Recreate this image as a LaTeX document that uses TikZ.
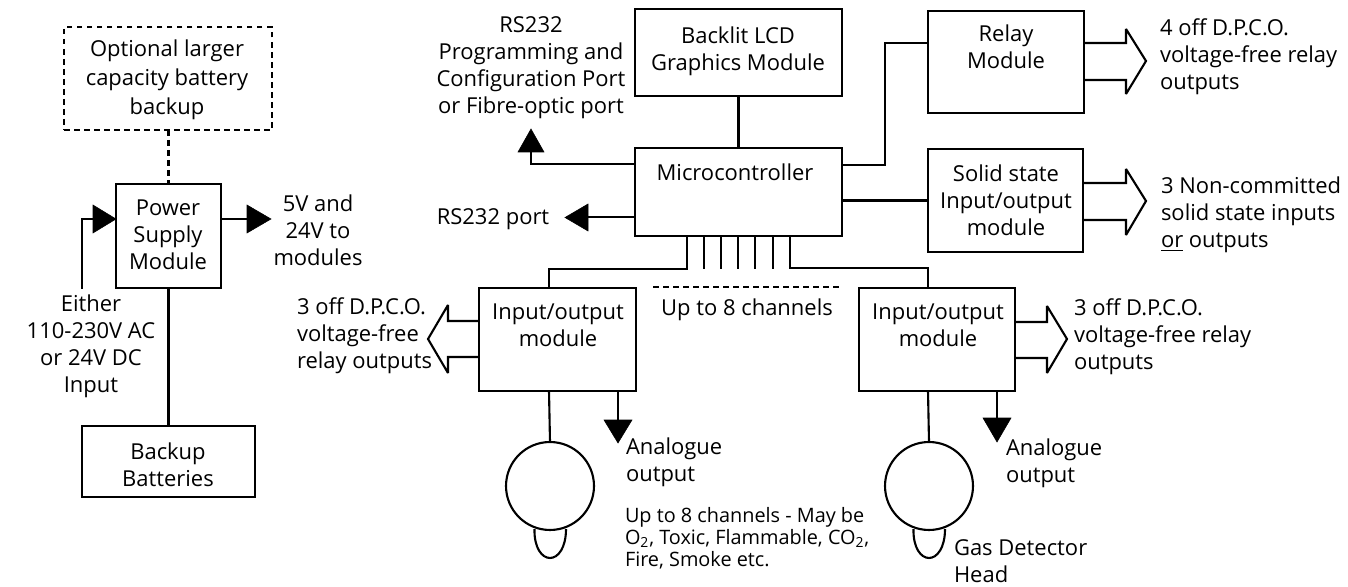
\documentclass[tikz,border=0pt]{standalone}
\usepackage{fontspec}
\setmainfont{Open Sans}
\begin{document}
\begin{tikzpicture}[x=0.02cm,y=-0.02cm,inner sep=0pt,outer sep=0pt,line width=1.2pt,line join=miter,
sysblock/.style={draw,rectangle,anchor=north west},
dashline/.style={dash pattern=on 3.2pt off 2.5pt},
lbl/.style={font=\fontsize{12.5}{15.3}\selectfont,align=center,anchor=center},
lblleft/.style={font=\fontsize{12.5}{15.3}\selectfont,align=left,anchor=north west},
smalllbl/.style={font=\fontsize{11.3}{12.5}\selectfont,align=left,anchor=north west},
solidhead/.style={fill=black,draw=black,line width=0.3pt},
openhead/.style={draw,miter limit=3}]
\useasboundingbox (0,0) rectangle (1348,587);
% left side, power
\draw (64,27) node[sysblock,dashline,minimum width=4.16cm,minimum height=2.06cm] (opt) {};
\node[lbl] (opttxt) at (167,80) {Optional larger\\[1.2pt]capacity battery\\[1.2pt]backup};
\draw (116,184) node[sysblock,minimum width=2.1cm,minimum height=2.08cm] (psu) {};
\node[lbl] (psutxt) at (168,235) {Power\\Supply\\Module};
\draw (82,426) node[sysblock,minimum width=3.46cm,minimum height=1.42cm] (batt) {};
\node[lbl] (batttxt) at (168,465) {Backup\\Batteries};
\draw[dashline] (opt.south -| psu.north) -- (psu.north);
\draw (psu.south) -- (batt.north -| psu.south);
\coordinate (acin) at (82,289);
\draw (acin) |- (93,219);
\draw[solidhead] (93,205) -- (116,219) -- (93,233) -- cycle;
\coordinate (dcout) at (247,219);
\draw (psu.east |- dcout) -- (dcout);
\draw[solidhead] (247,205) -- (271,219) -- (247,233) -- cycle;
\node[lbl] (dctxt) at (318,230) {5V and\\24V to\\modules};
\node[lbl] (actxt) at (91,346) {Either\\110-230V AC\\or 24V DC\\Input};
% centre
\draw (635,148) node[sysblock,minimum width=4.14cm,minimum height=1.76cm] (mcu) {};
\node[lbl] (mcutxt) at (735,172) {Microcontroller};
\draw (635,9) node[sysblock,minimum width=4.14cm,minimum height=1.74cm] (lcd) {};
\node[lbl] (lcdtxt) at (738,51) {Backlit LCD\\Graphics Module};
\draw (lcd.south) -- (lcd.south |- mcu.north);
\coordinate (rsa) at (531,164);
\draw (rsa -| mcu.west) -- (rsa) -- (531,150);
\draw[solidhead] (518,152) -- (531,129) -- (544,152) -- cycle;
\node[lbl] (rsatxt) at (531,68) {RS232\\Programming and\\Configuration Port\\or Fibre-optic port};
\coordinate (rsb) at (587,217);
\draw (rsb -| mcu.west) -- (rsb);
\draw[solidhead] (588,204) -- (565,217.5) -- (588,231) -- cycle;
\node[lbl] (rsbtxt) at (493,219) {RS232 port};
% relay and solid state
\draw (928,11) node[sysblock,minimum width=3.12cm,minimum height=2.04cm] (relay) {};
\node[lbl] (relaytxt) at (1006,47) {Relay\\Module};
\draw (928,149) node[sysblock,minimum width=3.1cm,minimum height=2.06cm] (solid) {};
\node[lbl] (solidtxt) at (1006,200) {Solid state\\Input/output\\module};
\coordinate (relayin) at (885,43);
\draw (mcu.east |- 0,165) -| (relayin) -- (relayin -| relay.west);
\draw (mcu.east |- solid.west) -- (solid.west);
\draw[openhead] (relay.east |- 0,43) -- (1126,43) -- (1126,29) -- (1146,61) -- (1126,94) -- (1126,80) -- (relay.east |- 0,80);
\draw[openhead] (solid.east |- 0,183) -- (1126,183) -- (1126,169) -- (1146,201) -- (1126,235) -- (1126,220) -- (solid.east |- 0,220);
\node[lblleft] (relaytxt2) at (1160,19) {4 off D.P.C.O.\\voltage-free relay\\outputs};
\node[lblleft] (solidtxt2) at (1161,177) {3 Non-committed\\solid state inputs\\\underline{or} outputs};
% channels
\foreach \cx in {704,721,738,755,773} \draw (\cx,236) -- (\cx,269);
\draw (687,236) |- (549,269) -- (549,288);
\draw (790,236) |- (928,268) -- (928,288);
\draw[dashline] (653,287) -- (839,287);
\node[lbl] (chtxt) at (747,310) {Up to 8 channels};
% input/output modules
\draw (479,288) node[sysblock,minimum width=3.14cm,minimum height=2.06cm] (iol) {};
\node[lbl] (ioltxt) at (558,325) {Input/output\\module};
\draw (859,288) node[sysblock,minimum width=3.12cm,minimum height=2.06cm] (ior) {};
\node[lbl] (iortxt) at (938,325) {Input/output\\module};
\draw[openhead] (iol.west |- 0,321) -- (448,321) -- (448,305) -- (428,339) -- (448,373) -- (448,357) -- (iol.west |- 0,357);
\draw[openhead] (ior.east |- 0,322) -- (1047,322) -- (1047,306) -- (1067,339) -- (1047,373) -- (1047,358) -- (ior.east |- 0,358);
\node[lblleft] (ioltxt2) at (297,298) {3 off D.P.C.O.\\voltage-free\\relay outputs};
\node[lblleft] (iortxt2) at (1074,299) {3 off D.P.C.O.\\voltage-free relay\\outputs};
% heads
\draw (550,486) node[draw,circle,minimum size=1.76cm,fill=white] (headl) {};
\draw (929,486) node[draw,circle,minimum size=1.76cm,fill=white] (headr) {};
\draw (549,391) -- (headl.north);
\draw (928,391) -- (headr.north);
\draw (534.5,529) .. controls (534,548) and (542,558) .. (550,558) .. controls (558,558) and (566,548) .. (566,529);
\draw (913.5,529) .. controls (913,548) and (921,558) .. (929,558) .. controls (937,558) and (945,548) .. (945,529);
\coordinate (aol) at (618,420);
\draw (aol |- iol.south) -- (aol);
\draw[solidhead] (604,420) -- (618,443) -- (632,420) -- cycle;
\coordinate (aor) at (997,418);
\draw (aor |- ior.south) -- (aor);
\draw[solidhead] (983,418) -- (997,442) -- (1011,418) -- cycle;
\node[lblleft] (aoltxt) at (626,438) {Analogue\\output};
\node[lblleft] (aortxt) at (1006,439) {Analogue\\output};
\node[smalllbl] (hdtxt) at (625,507) {Up to 8 channels - May be\\O\textsubscript{2}, Toxic, Flammable, CO\textsubscript{2},\\Fire, Smoke etc.};
\node[lblleft] (gastxt) at (954,540) {Gas Detector\\Head};
\end{tikzpicture}
\end{document}
